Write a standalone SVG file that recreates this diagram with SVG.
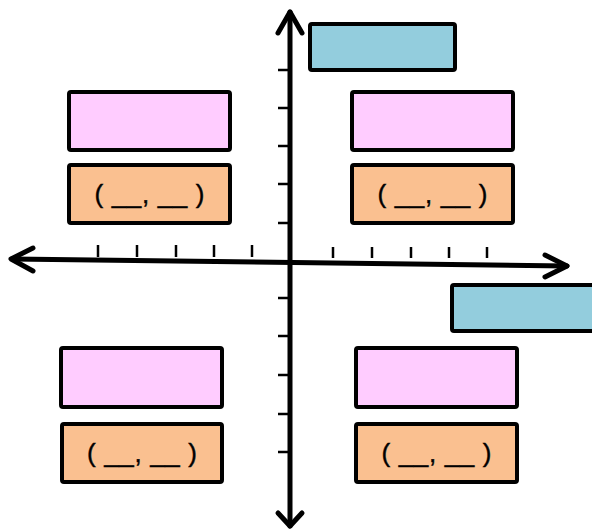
<svg xmlns="http://www.w3.org/2000/svg" width="592" height="531" viewBox="0 0 592 531">
<style>
.box{stroke:#000;stroke-width:4;}
.pink{fill:#FFCCFF;}
.orange{fill:#FAC090;}
.blue{fill:#93CDDD;}
.axis{stroke:#000;stroke-width:5;fill:none;stroke-linecap:round;stroke-linejoin:round;}
.tick{stroke:#000;stroke-width:2.5;}
.lbl{font-family:"Liberation Sans",Arial,sans-serif;font-size:26px;fill:#000;stroke:#000;stroke-width:0.4;text-anchor:middle;}
</style>
<rect width="592" height="531" fill="#fff"/>
<g id="connectors">
  <g id="x-axis">
    <line class="axis" x1="12" y1="259" x2="567" y2="266"/>
    <polyline class="axis" points="33,248 11,259 33,271"/>
    <polyline class="axis" points="545,255 567,266 545,277"/>
  </g>
  <g id="y-axis">
    <line class="axis" x1="290" y1="12" x2="290" y2="526"/>
    <polyline class="axis" points="278,33 290,12 302,33"/>
    <polyline class="axis" points="278,513 290,526 302,513"/>
  </g>
  <g id="x-ticks" class="tick">
    <line x1="98" y1="245" x2="98" y2="257"/>
    <line x1="137" y1="245" x2="137" y2="257"/>
    <line x1="176" y1="245" x2="176" y2="257"/>
    <line x1="214" y1="245" x2="214" y2="257"/>
    <line x1="252" y1="245" x2="252" y2="257"/>
    <line x1="333" y1="247" x2="333" y2="258"/>
    <line x1="372" y1="247" x2="372" y2="258"/>
    <line x1="411" y1="247" x2="411" y2="258"/>
    <line x1="449" y1="247" x2="449" y2="258"/>
    <line x1="487" y1="247" x2="487" y2="258"/>
  </g>
  <g id="y-ticks" class="tick">
    <line x1="278" y1="70" x2="290" y2="70"/>
    <line x1="278" y1="108" x2="290" y2="108"/>
    <line x1="278" y1="146" x2="290" y2="146"/>
    <line x1="278" y1="184" x2="290" y2="184"/>
    <line x1="278" y1="223" x2="290" y2="223"/>
    <line x1="278" y1="298" x2="290" y2="298"/>
    <line x1="278" y1="336" x2="290" y2="336"/>
    <line x1="278" y1="375" x2="290" y2="375"/>
    <line x1="278" y1="414" x2="290" y2="414"/>
    <line x1="278" y1="452" x2="290" y2="452"/>
  </g>
</g>
<g id="blue-top"><rect class="box blue" x="310" y="24" width="145" height="46" rx="2"/></g>
<g id="blue-right"><rect class="box blue" x="452" y="285" width="145" height="46" rx="2"/></g>
<g id="pink-q2"><rect class="box pink" x="69" y="92" width="161" height="58" rx="2"/></g>
<g id="orange-q2"><rect class="box orange" x="69" y="165" width="161" height="58" rx="2"/><text class="lbl" x="149.5" y="203" textLength="110" lengthAdjust="spacing">( __, __ )</text></g>
<g id="pink-q1"><rect class="box pink" x="352" y="92" width="161" height="58" rx="2"/></g>
<g id="orange-q1"><rect class="box orange" x="352" y="165" width="161" height="58" rx="2"/><text class="lbl" x="432.5" y="203" textLength="110" lengthAdjust="spacing">( __, __ )</text></g>
<g id="pink-q3"><rect class="box pink" x="61" y="348" width="161" height="59" rx="2"/></g>
<g id="orange-q3"><rect class="box orange" x="62" y="424" width="160" height="58" rx="2"/><text class="lbl" x="142" y="462" textLength="110" lengthAdjust="spacing">( __, __ )</text></g>
<g id="pink-q4"><rect class="box pink" x="356" y="348" width="161" height="59" rx="2"/></g>
<g id="orange-q4"><rect class="box orange" x="356" y="424" width="161" height="58" rx="2"/><text class="lbl" x="436.5" y="462" textLength="110" lengthAdjust="spacing">( __, __ )</text></g>
</svg>
